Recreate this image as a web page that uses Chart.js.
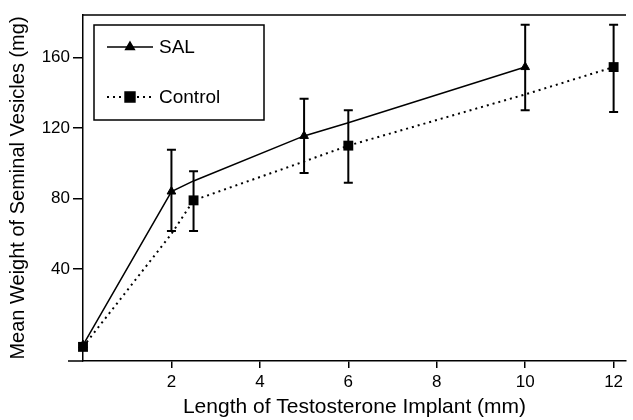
<!DOCTYPE html>
<html>
<head>
<meta charset="utf-8">
<script src="https://cdn.jsdelivr.net/npm/chart.js@4.4.1/dist/chart.umd.min.js"></script>
<style>
  html, body { margin: 0; padding: 0; background: #fff; }
  #wrap { width: 633px; height: 420px; }
</style>
</head>
<body>
<div id="wrap"><canvas id="chart"></canvas></div>
<script>
// implant length (mm) at every vertex of both curves
const lengths = [0, 2, 2.5, 5, 6, 10, 12];
const salWeight = [-3, 84, 90, 115.5, 123, 154.5, null];
const controlWeight = [-4, 60, 79, 101, 110, 139, 154.5];
// vertices that are real measurements (get a marker)
const salMeasured = [true, true, false, true, false, true, false];
const controlMeasured = [true, false, true, false, true, false, true];
// error bar ends
const salErrLow = [null, 61.6, null, 94.5, null, 130, null];
const salErrHigh = [null, 107.7, null, 136.6, null, 178.5, null];
const controlErrLow = [null, null, 61.6, null, 89, null, 129];
const controlErrHigh = [null, null, 95.5, null, 130, null, 178.5];
const xTicks = [2, 4, 6, 8, 10, 12];
const yTicks = [40, 80, 120, 160];

const FONT = "'Liberation Sans', Arial, sans-serif";

function toPoints(ys) {
  return lengths.map((x, i) => ({ x: x, y: ys[i] }));
}

// error bars, drawn through the scales
const errorBars = {
  id: 'errorBars',
  afterDatasetsDraw(chart) {
    const { ctx, scales: { x, y } } = chart;
    ctx.save();
    ctx.strokeStyle = '#000';
    ctx.lineWidth = 2;
    chart.data.datasets.forEach(ds => {
      lengths.forEach((len, i) => {
        if (ds.errLow[i] == null) return;
        const px = x.getPixelForValue(len);
        const lo = y.getPixelForValue(ds.errLow[i]);
        const hi = y.getPixelForValue(ds.errHigh[i]);
        ctx.beginPath();
        ctx.moveTo(px, lo); ctx.lineTo(px, hi);
        ctx.moveTo(px - 4.5, lo); ctx.lineTo(px + 4.5, lo);
        ctx.moveTo(px - 4.5, hi); ctx.lineTo(px + 4.5, hi);
        ctx.stroke();
      });
    });
    ctx.restore();
  }
};

// top frame line, x axis stub left of the y axis, and the boxed legend
const frameAndLegend = {
  id: 'frameAndLegend',
  afterDraw(chart) {
    const { ctx, chartArea: a } = chart;
    ctx.save();
    ctx.strokeStyle = '#000';
    ctx.lineWidth = 1.5;
    ctx.beginPath();
    ctx.moveTo(a.left, a.top); ctx.lineTo(a.right, a.top);
    ctx.moveTo(a.left - 15, a.bottom); ctx.lineTo(a.left, a.bottom);
    ctx.stroke();

    // legend box
    const bx = a.left + 11, by = a.top + 10, bw = 170, bh = 95;
    ctx.lineWidth = 1.5;
    ctx.strokeRect(bx, by, bw, bh);
    const rows = [
      { label: 'SAL', y: by + 22, ds: chart.data.datasets[1] },
      { label: 'Control', y: by + 72, ds: chart.data.datasets[0] }
    ];
    rows.forEach(r => {
      ctx.save();
      ctx.strokeStyle = '#000';
      ctx.lineWidth = r.ds.borderWidth;
      ctx.setLineDash(r.ds.borderDash || []);
      ctx.beginPath();
      ctx.moveTo(bx + 13, r.y); ctx.lineTo(bx + 59, r.y);
      ctx.stroke();
      ctx.restore();
      ctx.fillStyle = '#000';
      Chart.helpers.drawPoint(ctx, { pointStyle: r.ds.pointStyle, radius: r.ds.legendRadius, borderWidth: 1 }, bx + 36, r.y);
      ctx.fillStyle = '#000';
      ctx.font = '19px ' + FONT;
      ctx.textBaseline = 'middle';
      ctx.textAlign = 'left';
      ctx.fillText(r.label, bx + 65, r.y + 1);
    });
    ctx.restore();
  }
};

new Chart(document.getElementById('chart'), {
  type: 'line',
  data: {
    datasets: [
      {
        label: 'Control',
        data: toPoints(controlWeight),
        errLow: controlErrLow,
        errHigh: controlErrHigh,
        borderColor: '#000',
        backgroundColor: '#000',
        borderWidth: 2,
        borderDash: [2, 4],
        pointStyle: 'rect',
        legendRadius: 7,
        pointRadius: c => controlMeasured[c.dataIndex] ? 7 : 0,
        pointBorderWidth: 0,
        tension: 0,
        order: 0
      },
      {
        label: 'SAL',
        data: toPoints(salWeight),
        errLow: salErrLow,
        errHigh: salErrHigh,
        borderColor: '#000',
        backgroundColor: '#000',
        borderWidth: 1.5,
        pointStyle: 'triangle',
        legendRadius: 5,
        pointRadius: c => salMeasured[c.dataIndex] ? 5 : 0,
        pointBorderWidth: 1,
        tension: 0,
        spanGaps: false,
        order: 1
      }
    ]
  },
  options: {
    responsive: true,
    maintainAspectRatio: false,
    animation: false,
    clip: false,
    layout: { padding: { top: 15, right: 0, left: 0, bottom: 0 } },
    plugins: { legend: { display: false }, tooltip: { enabled: false } },
    scales: {
      x: {
        type: 'linear',
        min: 0,
        max: 12.28,
        afterBuildTicks: s => { s.ticks = xTicks.map(v => ({ value: v })); },
        afterFit: s => { s.height = 59; },
        grid: { display: true, drawOnChartArea: false, tickLength: 7, color: '#000', lineWidth: 1.5 },
        border: { display: true, color: '#000', width: 1.5 },
        ticks: { color: '#000', font: { family: FONT, size: 17 }, padding: 4, maxRotation: 0 },
        title: { display: true, text: 'Length of Testosterone Implant (mm)', color: '#000',
                 font: { family: FONT, size: 21 }, padding: { top: 0, bottom: 0 } }
      },
      y: {
        min: -12,
        max: 184,
        afterBuildTicks: s => { s.ticks = yTicks.map(v => ({ value: v })); },
        afterFit: s => { s.width = 83; },
        grid: { display: true, drawOnChartArea: false, tickLength: 10, color: '#000', lineWidth: 1.5 },
        border: { display: true, color: '#000', width: 1.5 },
        ticks: { color: '#000', font: { family: FONT, size: 17 }, padding: 3 },
        title: { display: true, text: 'Mean Weight of Seminal Vesicles (mg)', color: '#000',
                 font: { family: FONT, size: 20 }, padding: { top: 6, bottom: 0 } }
      }
    }
  },
  plugins: [errorBars, frameAndLegend]
});
</script>
</body>
</html>
